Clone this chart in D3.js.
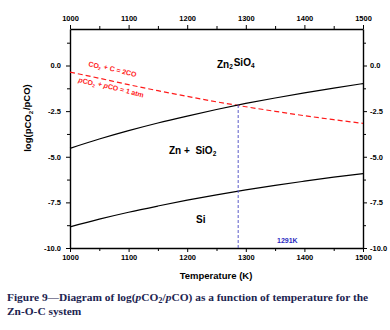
<!DOCTYPE html>
<html><head><meta charset="utf-8">
<script src="https://cdn.jsdelivr.net/npm/d3@7"></script>
<style>
html,body{margin:0;padding:0;background:#fff;}
svg{display:block;}
</style></head>
<body>
<svg id="c" width="390" height="330"></svg>
<script>
// ---- data ----
const temps = [1000,1050,1100,1150,1200,1250,1300,1350,1400,1450,1500];
const upperBoundary = [-4.54,-4.03,-3.57,-3.15,-2.77,-2.41,-2.08,-1.78,-1.50,-1.24,-0.99]; // Zn2SiO4 / Zn+SiO2
const lowerBoundary = [-8.84,-8.42,-8.04,-7.70,-7.38,-7.09,-6.82,-6.57,-6.34,-6.12,-5.92]; // Zn+SiO2 / Si
const boudouard = [-0.36,-0.70,-1.05,-1.38,-1.69,-1.99,-2.26,-2.51,-2.75,-2.97,-3.17];   // CO2 + C = 2CO
const crossT = 1287;
const xTicks = [1000,1100,1200,1300,1400,1500];
const xMinor = [1050,1150,1250,1350,1450];
const yTicks = [0,-2.5,-5,-7.5,-10];
const yMinor = [1.25,-1.25,-3.75,-6.25,-8.75];
const yTickLabels = ["0.0","-2.5","-5.0","-7.5","-10.0"];

const svg = d3.select("#c");
const L=70, R=363, T=29, B=248;
const x = d3.scaleLinear().domain([1000,1500]).range([L,R]);
const y = d3.scaleLinear().domain([-10,2]).range([B,T]);
const font = "Arial, 'Liberation Sans', sans-serif";

// axes
function styleAxis(g){
  g.selectAll("path").attr("stroke","#000").attr("stroke-width",1.4);
  g.selectAll("line").attr("stroke","#000").attr("stroke-width",1);
  g.selectAll("text").attr("font-family",font).attr("font-weight","bold").attr("font-size","7.5px").attr("fill","#000");
}
const fmtY = d => yTickLabels[yTicks.indexOf(d)];
svg.append("g").attr("transform",`translate(0,${B})`)
  .call(d3.axisBottom(x).tickValues(xTicks).tickFormat(d3.format("d")).tickSize(4).tickSizeOuter(0).tickPadding(3)).call(styleAxis);
svg.append("g").attr("transform",`translate(0,${T})`)
  .call(d3.axisTop(x).tickValues(xTicks).tickFormat(d3.format("d")).tickSize(4).tickSizeOuter(0).tickPadding(4)).call(styleAxis);
svg.append("g").attr("transform",`translate(${L},0)`)
  .call(d3.axisLeft(y).tickValues(yTicks).tickFormat(fmtY).tickSize(4).tickSizeOuter(0).tickPadding(5)).call(styleAxis);
svg.append("g").attr("transform",`translate(${R},0)`)
  .call(d3.axisRight(y).tickValues(yTicks).tickFormat(fmtY).tickSize(4).tickSizeOuter(0).tickPadding(3)).call(styleAxis);
// minor ticks
svg.append("g").attr("transform",`translate(0,${B})`)
  .call(d3.axisBottom(x).tickValues(xMinor).tickFormat("").tickSize(3).tickSizeOuter(0)).call(styleAxis).select("path").remove();
svg.append("g").attr("transform",`translate(0,${T})`)
  .call(d3.axisTop(x).tickValues(xMinor).tickFormat("").tickSize(3).tickSizeOuter(0)).call(styleAxis).select("path").remove();
svg.append("g").attr("transform",`translate(${L},0)`)
  .call(d3.axisLeft(y).tickValues(yMinor).tickFormat("").tickSize(3).tickSizeOuter(0)).call(styleAxis).select("path").remove();
svg.append("g").attr("transform",`translate(${R},0)`)
  .call(d3.axisRight(y).tickValues(yMinor).tickFormat("").tickSize(3).tickSizeOuter(0)).call(styleAxis).select("path").remove();

// lines
const line = vals => d3.line().x((d,i)=>x(temps[i])).y(d=>y(d)).curve(d3.curveMonotoneX)(vals);
svg.append("path").attr("d",line(boudouard)).attr("fill","none").attr("stroke","#ff1a1a").attr("stroke-width",1.2).attr("stroke-dasharray","5,3");
svg.append("path").attr("d",line(upperBoundary)).attr("fill","none").attr("stroke","#000").attr("stroke-width",1.2);
svg.append("path").attr("d",line(lowerBoundary)).attr("fill","none").attr("stroke","#000").attr("stroke-width",1.2);
const crossY = d3.interpolateNumber(upperBoundary[5],upperBoundary[6])((crossT-1250)/50);
svg.append("line").attr("x1",x(crossT)).attr("x2",x(crossT)).attr("y1",y(crossY)).attr("y2",B)
  .attr("stroke","#5a5ac8").attr("stroke-width",1).attr("stroke-dasharray","3,2");

// text helpers
function chem(parent, parts, attrs){
  const t = parent.append("text");
  Object.entries(attrs).forEach(([k,v])=>t.attr(k,v));
  parts.forEach(p=>{
    if (typeof p === "string") t.append("tspan").text(p);
    else if (p.sub) { t.append("tspan").attr("font-size",p.fs||"0.65em").attr("dy",p.dy||"0.3em").text(p.sub); t.append("tspan").attr("dy","-"+(p.dy||"0.3em")).text("\u200A"); }
    else if (p.it) t.append("tspan").attr("font-style","italic").text(p.it);
  });
  return t;
}
// region labels
chem(svg, ["Zn",{sub:"2"},"SiO",{sub:"4"}], {x:217,y:67.5,"font-family":font,"font-weight":"bold","font-size":"10px"});
chem(svg, ["Zn +  SiO",{sub:"2"}], {x:169,y:154,"font-family":font,"font-weight":"bold","font-size":"10px","xml:space":"preserve"});
svg.append("text").attr("x",196).attr("y",222.5).attr("font-family",font).attr("font-weight","bold").attr("font-size","10px").text("Si");
// reaction labels
chem(svg, ["CO",{sub:"2"}," + C = 2CO"], {transform:"translate(88,66) rotate(14)","font-family":font,"font-weight":"bold","font-size":"7px",fill:"#ff1a1a"});
chem(svg, [{it:"p"},"CO",{sub:"2"}," + ",{it:"p"},"CO = 1 atm"], {transform:"translate(78,82) rotate(14)","font-family":font,"font-weight":"bold","font-size":"7px",fill:"#ff1a1a"});
svg.append("text").attr("x",277).attr("y",243).attr("font-family",font).attr("font-weight","bold").attr("font-size","7px").attr("fill","#2a2ac0").text("1291K");

// axis titles
svg.append("text").attr("x",216).attr("y",279).attr("text-anchor","middle").attr("font-family",font).attr("font-weight","bold").attr("font-size","9.5px").text("Temperature (K)");
chem(svg, ["log(pCO",{sub:"2",dy:"0.25em"},"/pCO)"], {transform:"translate(31,118) rotate(-90)","text-anchor":"middle","font-family":font,"font-weight":"bold","font-size":"9.5px"});

// caption
const cap = svg.append("text").attr("font-family","'Liberation Serif','DejaVu Serif',serif").attr("font-weight","bold").attr("font-size","11.4px").attr("fill","#1c2450");
const l1 = cap.append("tspan").attr("x",7).attr("y",301);
l1.append("tspan").text("Figure 9\u2014Diagram of log(");
l1.append("tspan").attr("font-style","italic").text("p");
l1.append("tspan").text("CO");
l1.append("tspan").attr("font-size","8.5px").attr("dy","2").text("2");
l1.append("tspan").attr("dy","-2").text("/");
l1.append("tspan").attr("font-style","italic").text("p");
l1.append("tspan").text("CO) as a function of temperature for the");
cap.append("tspan").attr("x",7).attr("y",315).text("Zn-O-C system");
</script>
</body></html>
